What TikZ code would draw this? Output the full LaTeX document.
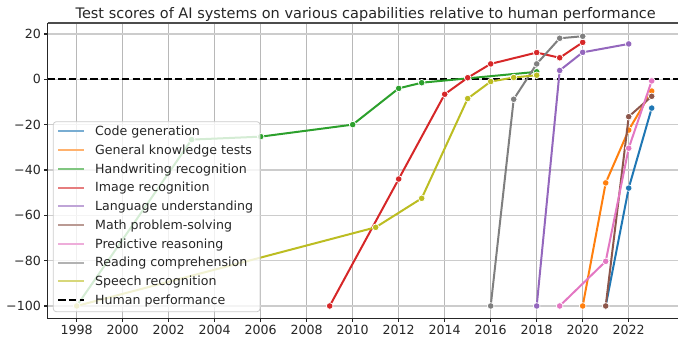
\documentclass[tikz,border=0pt]{standalone}
\usepackage{fontspec}
\setmainfont{DejaVu Sans}
\usetikzlibrary{plotmarks}
\definecolor{cCode}{HTML}{1F77B4}
\definecolor{cGen}{HTML}{FF7F0E}
\definecolor{cHand}{HTML}{2CA02C}
\definecolor{cImg}{HTML}{D62728}
\definecolor{cLang}{HTML}{9467BD}
\definecolor{cMath}{HTML}{8C564B}
\definecolor{cPred}{HTML}{E377C2}
\definecolor{cRead}{HTML}{7F7F7F}
\definecolor{cSpeech}{HTML}{BCBD22}
\definecolor{txt}{HTML}{262626}
\tikzset{
  lbl/.style={font=\fontsize{12.6}{15}\selectfont, text=txt, inner sep=0pt},
  series/.style={draw=#1, line width=2pt, line join=round, mark=*, mark size=3.3pt,
    mark options={fill=#1, draw=white, line width=0.7pt, solid}},
  vgrid/.style={draw=black!28, line width=1pt},
  hgrid/.style={draw=black!20, line width=1.4pt},
  spine/.style={draw=black!85, line width=1.2pt},
  human/.style={draw=black, line width=2.2pt, dash pattern=on 7.4pt off 3.2pt},
  handle/.style={draw=#1!60, line width=2pt},
}
\begin{document}
\begin{tikzpicture}[x=1pt,y=-1pt]
\useasboundingbox (0,0) rectangle (678,337);
% grid
\foreach \i in {0,...,12} {
  \draw[vgrid] ({76.7+46*\i},23) -- ({76.7+46*\i},318.7);
  \draw[spine] ({76.7+46*\i},318.7) -- ({76.7+46*\i},322.2);
  \pgfmathtruncatemacro{\yr}{1998+2*\i}
  \node[lbl, anchor=base] (xt\i) at ({76.7+46*\i},334.7) {\yr};
}
\foreach \v/\t [count=\k] in {20/20,0/0,-20/−20,-40/−40,-60/−60,-80/−80,-100/−100} {
  \draw[hgrid] (47.7,{79.3-2.2667*\v}) -- (678,{79.3-2.2667*\v});
  \draw[spine] (47.7,{79.3-2.2667*\v}) -- (44.2,{79.3-2.2667*\v});
  \node[lbl, anchor=base east] (yt\k) at (41,{79.3-2.2667*\v+4.6}) {\t};
}
% spines
\draw[spine] (47.7,23) -- (47.7,318.7) -- (678,318.7);
\draw[draw=black!70, line width=1.2pt] (47.7,23) -- (678,23);
% title
\node[lbl, font=\fontsize{14.5}{17}\selectfont, anchor=base] (title) at (365.7,18.3) {Test scores of AI systems on various capabilities relative to human performance};
% human performance
\draw[human] (47.7,79.3) -- (678,79.3);
% data
\begin{scope}[shift={(76.7pt,-79.3pt)}, x=23pt, y=2.2667pt]
\draw[series=cCode] plot coordinates {(23,-100) (24,-48) (25,-12.7)};
\draw[series=cGen] plot coordinates {(22,-100) (23,-45.7) (24,-22.4) (25,-5.2)};
\draw[series=cHand] plot coordinates {(0,-100) (5,-26.6) (8,-25.3) (12,-20) (14,-4) (15,-1.5) (20,3.3)};
\draw[series=cImg] plot coordinates {(11,-100) (14,-44) (16,-6.6) (17,0.7) (18,6.8) (20,11.8) (21,9.5) (22,16.3)};
\draw[series=cLang] plot coordinates {(20,-100) (21,3.9) (22,11.9) (24,15.6)};
\draw[series=cMath] plot coordinates {(23,-100) (24,-16.5) (25,-7.5)};
\draw[series=cPred] plot coordinates {(21,-100) (23,-80.3) (24,-30.4) (25,-0.7)};
\draw[series=cRead] plot coordinates {(18,-100) (19,-8.8) (20,6.8) (21,18.1) (22,19)};
\draw[series=cSpeech] plot coordinates {(0,-100) (13,-65.3) (15,-52.5) (17,-8.5) (18,-1) (19,0.8) (20,1.8)};
\end{scope}
% legend
\draw[draw=black!20, fill=white, fill opacity=0.8, rounded corners=3pt, line width=0.8pt] (53.3,121.7) rectangle (260,311.7);
\foreach \c/\t [count=\k from 0] in {cCode/Code generation, cGen/General knowledge tests, cHand/Handwriting recognition, cImg/Image recognition, cLang/Language understanding, cMath/Math problem-solving, cPred/Predictive reasoning, cRead/Reading comprehension, cSpeech/Speech recognition} {
  \draw[handle=\c] (58.3,{131.3+18.75*\k}) -- (84.3,{131.3+18.75*\k});
  \node[lbl, anchor=base west] (lg\k) at (95,{131.3+18.75*\k+4.4}) {\t};
}
\draw[human, line width=2pt] (58.3,300) -- (84.3,300);
\node[lbl, anchor=base west] (lgh) at (95,304.4) {Human performance};
\end{tikzpicture}
\end{document}
